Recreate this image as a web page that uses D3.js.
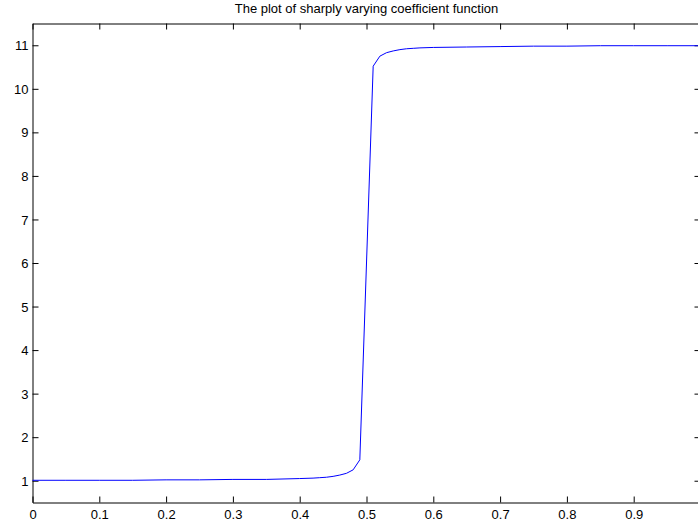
<!DOCTYPE html>
<html>
<head>
<meta charset="utf-8">
<script src="https://cdn.jsdelivr.net/npm/d3@7"></script>
<style>
  html, body { margin: 0; padding: 0; background: #fff; }
  svg text { font-family: "Liberation Sans", Arial, Helvetica, sans-serif; fill: #000; }
</style>
</head>
<body>
<svg id="chart" width="698" height="525"></svg>
<script>
// Sampled coefficient function a(x)
const xValues = [0, 0.05, 0.1, 0.15, 0.2, 0.25, 0.3, 0.35, 0.4, 0.42, 0.43, 0.44, 0.45, 0.46, 0.47, 0.48, 0.49,
                 0.5, 0.51, 0.52, 0.53, 0.54, 0.55, 0.56, 0.57, 0.58, 0.6, 0.65, 0.7, 0.75, 0.8, 0.85, 0.9, 0.95, 1.0];
const yValues = [1.01, 1.01, 1.01, 1.01, 1.02, 1.02, 1.03, 1.03, 1.05, 1.06, 1.07, 1.08, 1.10, 1.13, 1.17, 1.25, 1.48,
                 6.0, 10.52, 10.75, 10.83, 10.87, 10.90, 10.92, 10.93, 10.94, 10.95, 10.96, 10.97, 10.98, 10.98, 10.99, 10.99, 10.99, 10.99];

const xTicks = [0, 0.1, 0.2, 0.3, 0.4, 0.5, 0.6, 0.7, 0.8, 0.9];
const yTicks = [1, 2, 3, 4, 5, 6, 7, 8, 9, 10, 11];
const titleText = "The plot of sharply varying coefficient function";

const box = { left: 32.5, right: 700.5, top: 23.5, bottom: 502.5 };
const svg = d3.select("#chart");

const x = d3.scaleLinear().domain([0, 1]).range([box.left, box.right]);
const y = d3.scaleLinear().domain([0.5, 11.5]).range([box.bottom, box.top]);

const tickLen = 6;
const fontSize = 13;

// Axes: ticks point inward, labels on bottom and left only
const axisBottomG = svg.append("g").attr("transform", `translate(0,${box.bottom})`)
  .call(d3.axisBottom(x).tickValues(xTicks).tickFormat(d3.format("")).tickSizeInner(-tickLen).tickSizeOuter(0).tickPadding(10));
const axisTopG = svg.append("g").attr("transform", `translate(0,${box.top})`)
  .call(d3.axisTop(x).tickValues(xTicks).tickFormat("").tickSizeInner(-tickLen).tickSizeOuter(0));
const axisLeftG = svg.append("g").attr("transform", `translate(${box.left},0)`)
  .call(d3.axisLeft(y).tickValues(yTicks).tickFormat(d3.format("d")).tickSizeInner(-tickLen).tickSizeOuter(0).tickPadding(10));
const axisRightG = svg.append("g").attr("transform", `translate(${box.right},0)`)
  .call(d3.axisRight(y).tickValues(yTicks).tickFormat("").tickSizeInner(-tickLen).tickSizeOuter(0));

[axisBottomG, axisTopG, axisLeftG, axisRightG].forEach(g => {
  g.selectAll(".domain").attr("stroke", "#000").attr("stroke-width", 1);
  g.selectAll(".tick line").attr("stroke", "#000").attr("stroke-width", 1);
  g.selectAll(".tick text").attr("font-size", fontSize).attr("font-family", null);
});
axisBottomG.selectAll(".tick text").attr("dy", null).attr("y", 16.5);
axisLeftG.selectAll(".tick text").attr("x", -4).attr("dy", "0.35em");

// Curve
const line = d3.line().x((d, i) => x(xValues[i])).y(d => y(d));
svg.append("path")
  .datum(yValues)
  .attr("fill", "none")
  .attr("stroke", "#0000ff")
  .attr("stroke-width", 1)
  .attr("d", line);

// Title
svg.append("text")
  .attr("x", (box.left + box.right) / 2)
  .attr("y", 13)
  .attr("text-anchor", "middle")
  .attr("font-size", fontSize)
  .text(titleText);
</script>
</body>
</html>
